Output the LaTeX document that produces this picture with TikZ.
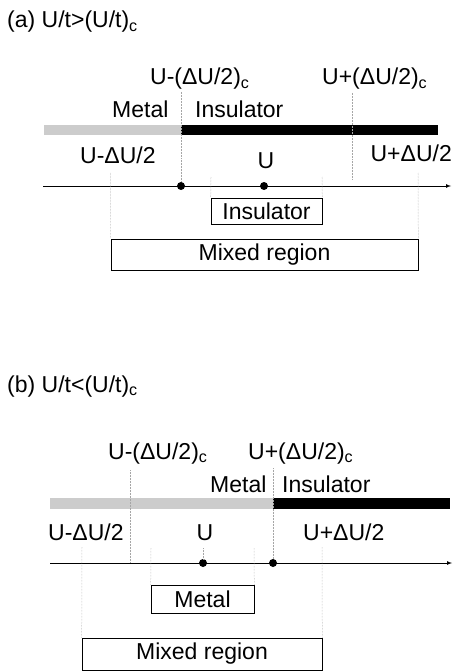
\documentclass[tikz,border=0pt]{standalone}
\usepackage{fontspec}
\setmainfont{Liberation Sans}

\begin{document}
\begin{tikzpicture}[
  x=1pt, y=-1pt,
  every node/.style={font=\fontsize{23}{27}\selectfont, inner sep=0pt},
  lbl/.style={anchor=base west},
  regbox/.style={draw, line width=0.6pt, inner sep=0pt},
  udot/.style={circle, fill, minimum size=8pt},
  guide/.style={densely dotted, line width=0.5pt, gray!70},
  numline/.style={line width=0.7pt, -latex}
]
\useasboundingbox (0,0) rectangle (453,671);

\node[lbl] (titleA) at (7,28) {(a) U/t>(U/t)\textsubscript{c}};
\node[lbl] (lcA) at (150,85) {U-(ΔU/2)\textsubscript{c}};
\node[lbl] (rcA) at (322,85) {U+(ΔU/2)\textsubscript{c}};
\node[lbl] (metA) at (112,118) {Metal};
\node[lbl] (insA) at (195,118) {Insulator};
\fill[gray!40] (44,125) rectangle (181,135);
\fill (181,125) rectangle (438,135);
\node[lbl] (loA) at (80,164) {U-ΔU/2};
\node[anchor=base] (uA) at (266,168) {U};
\node[anchor=base east] (hiA) at (452,162) {U+ΔU/2};
\coordinate (axA0) at (43,186);
\coordinate (axA1) at (451,186);
\draw[numline] (axA0) -- (axA1);
\node[udot] (dA1) at (181,186) {};
\node[udot] (dA2) at (264,186) {};
\node[regbox, minimum width=111pt, minimum height=26pt] (boxInsA) at (266.5,211) {Insulator};
\node[regbox, minimum width=307pt, minimum height=31pt] (mixA) at (264.5,254.5) {Mixed region};
\coordinate (gA1) at (181,92);
\coordinate (gA2) at (352,93);
\coordinate (gA3) at (352,180);
\coordinate (gA4) at (110.5,173);
\coordinate (gA5) at (418,173);
\coordinate (gA6) at (211,177);
\coordinate (gA7) at (322,177);
\draw[guide] (gA1) -- (dA1);
\draw[guide] (gA2) -- (gA3);
\draw[guide] (gA4) -- (mixA.north west);
\draw[guide] (gA5) -- (mixA.north east);
\draw[guide] (gA6) -- (boxInsA.north west);
\draw[guide] (gA7) -- (boxInsA.north east);

\node[lbl] (titleB) at (7,392) {(b) U/t<(U/t)\textsubscript{c}};
\node[lbl] (lcB) at (108,459) {U-(ΔU/2)\textsubscript{c}};
\node[lbl] (rcB) at (248,459) {U+(ΔU/2)\textsubscript{c}};
\node[lbl] (metB) at (210,492) {Metal};
\node[lbl] (insB) at (282,492) {Insulator};
\fill[gray!40] (50,498) rectangle (273,509);
\fill (273,498) rectangle (450,509);
\node[lbl] (loB) at (48,540) {U-ΔU/2};
\node[anchor=base] (uB) at (205,540) {U};
\node[lbl] (hiB) at (303,540) {U+ΔU/2};
\coordinate (axB0) at (50,563);
\coordinate (axB1) at (452,563);
\draw[numline] (axB0) -- (axB1);
\node[udot] (dB1) at (203,563) {};
\node[udot] (dB2) at (273,563) {};
\node[regbox, minimum width=103pt, minimum height=28pt] (boxMetB) at (202.5,599) {Metal};
\node[regbox, minimum width=240pt, minimum height=32pt] (mixB) at (202,654) {Mixed region};
\coordinate (gB1) at (130,470);
\coordinate (gB2) at (130,563);
\coordinate (gB3) at (273,468);
\coordinate (gB4) at (203,548);
\coordinate (gB5) at (82,547);
\coordinate (gB6) at (322,547);
\coordinate (gB7) at (151,548);
\coordinate (gB8) at (254,548);
\draw[guide] (gB1) -- (gB2);
\draw[guide] (gB3) -- (dB2);
\draw[guide] (gB4) -- (dB1);
\draw[guide] (gB5) -- (mixB.north west);
\draw[guide] (gB6) -- (mixB.north east);
\draw[guide] (gB7) -- (boxMetB.north west);
\draw[guide] (gB8) -- (boxMetB.north east);
\end{tikzpicture}
\end{document}
